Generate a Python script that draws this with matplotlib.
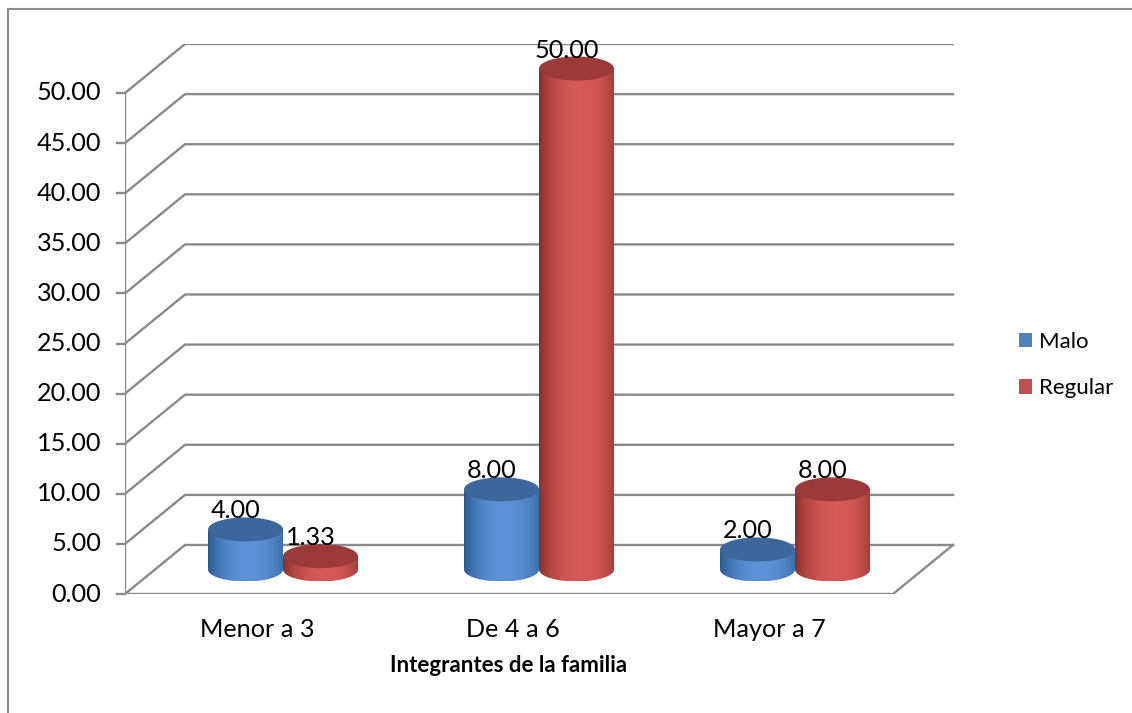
import numpy as np
import matplotlib
matplotlib.use('Agg')
import matplotlib.pyplot as plt
from matplotlib.patches import Ellipse, PathPatch, Patch
from matplotlib.path import Path
from matplotlib.lines import Line2D
from matplotlib.colors import LinearSegmentedColormap

# datos
categorias = ['Menor a 3', 'De 4 a 6', 'Mayor a 7']
series = ['Malo', 'Regular']
malo = [4.00, 8.00, 2.00]
regular = [1.33, 50.00, 8.00]
ticks = np.arange(0, 50.1, 5)

plt.rcParams['font.family'] = ['Lato', 'DejaVu Sans']

W, H = 1132, 713
fig = plt.figure(figsize=(W / 100, H / 100), dpi=100)

# pixel geometry of the 3d box
unit = 10.02       # px per value unit
cat_px = 256.0     # px per category on the front plane
dx = 60 / cat_px
dy = 49 / unit
ax = fig.add_axes([125 / W, (H - 594) / H, 833 / W, 550 / H])
ax.set_xlim(0, 833 / cat_px)
ax.set_ylim(0, 550 / unit)
ax.axis('off')

fs = 18.2
grid_c = '#8a8a8a'
ncat = len(categorias)
for v in ticks:
    ax.plot([0, dx, ncat + dx], [v, v + dy, v + dy], color=grid_c, lw=1.7, zorder=1)
    ax.plot([-8 / cat_px, 0], [v, v], color=grid_c, lw=1.7, clip_on=False, zorder=1)
    ax.text(-24 / cat_px, v, f'{v:.2f}', ha='right', va='center', fontsize=fs)
ax.plot([0, 0], [0, ticks[-1]], color=grid_c, lw=1.7, zorder=1)
ax.plot([0, ncat, ncat + dx], [0, 0, dy], color=grid_c, lw=1.7, zorder=1)

for i, c in enumerate(categorias):
    ax.text(i + 0.5 + 4 / cat_px, -43 / unit, c, ha='center', va='baseline', fontsize=fs)
ax.text(1.5, -78 / unit, 'Integrantes de la familia', ha='center', va='baseline',
        fontsize=16, fontweight='bold')

colores = {
    'Malo': ('#2b5a91', '#5d93d6', '#3c679d'),
    'Regular': ('#8a2e2c', '#d65b58', '#9b3a38'),
}
cyl_w = 75 / cat_px
half_b = 12 / unit
y_base = dy / 2

t = np.linspace(0, 1, 200)
prof = np.clip(1 - ((t - 0.55) / 0.6) ** 2, 0, 1) ** 0.8
grad = np.tile(prof, (2, 1))


def cilindro(xc, val, name, z):
    dark, light, top = colores[name]
    cmap = LinearSegmentedColormap.from_list(name, [dark, light])
    x0, x1 = xc - cyl_w / 2, xc + cyl_w / 2
    yt = y_base + val
    th = np.linspace(np.pi, 2 * np.pi, 60)
    verts = [(x0, yt)] + list(zip(xc + cyl_w / 2 * np.cos(th), y_base + half_b * np.sin(th)))
    verts += [(x1, yt), (x0, yt)]
    codes = [Path.MOVETO] + [Path.LINETO] * (len(verts) - 2) + [Path.CLOSEPOLY]
    body = PathPatch(Path(verts, codes), facecolor='none', edgecolor='none',
                     transform=ax.transData, zorder=z)
    ax.add_patch(body)
    im = ax.imshow(grad, cmap=cmap, extent=(x0, x1, y_base - half_b, yt),
                   aspect='auto', origin='lower', zorder=z, interpolation='bilinear')
    im.set_clip_path(body)
    ax.add_patch(Ellipse((xc, yt), cyl_w, 2 * half_b, facecolor=top,
                         edgecolor='none', zorder=z + 0.1))
    ax.annotate(f'{val:.2f}', (xc, yt + half_b), xytext=(-10, -1),
                textcoords='offset pixels', ha='center', va='baseline', fontsize=fs,
                zorder=10)


for i in range(ncat):
    center = i + 0.5 + dx / 2
    cilindro(center - cyl_w / 2, malo[i], 'Malo', 3 + i)
    cilindro(center + cyl_w / 2, regular[i], 'Regular', 3.5 + i)

ax.set_xlim(0, 833 / cat_px)
ax.set_ylim(0, 550 / unit)

handles = [Patch(facecolor='#4f81bd'), Patch(facecolor='#c0504d')]
fig.legend(handles, series, loc='center left', bbox_to_anchor=(1008 / W, 1 - 365 / H),
           frameon=False, fontsize=16, handlelength=0.6, handleheight=0.6,
           handletextpad=0.3, labelspacing=1.2, borderpad=0)

# chart border (cropped on right / bottom)
fig.add_artist(Line2D([8 / W, 1], [1 - 9 / H, 1 - 9 / H], color='#8c8c8c', lw=1.5))
fig.add_artist(Line2D([8 / W, 8 / W], [0, 1 - 9 / H], color='#8c8c8c', lw=1.5))

fig.savefig('out.png', dpi=100)
